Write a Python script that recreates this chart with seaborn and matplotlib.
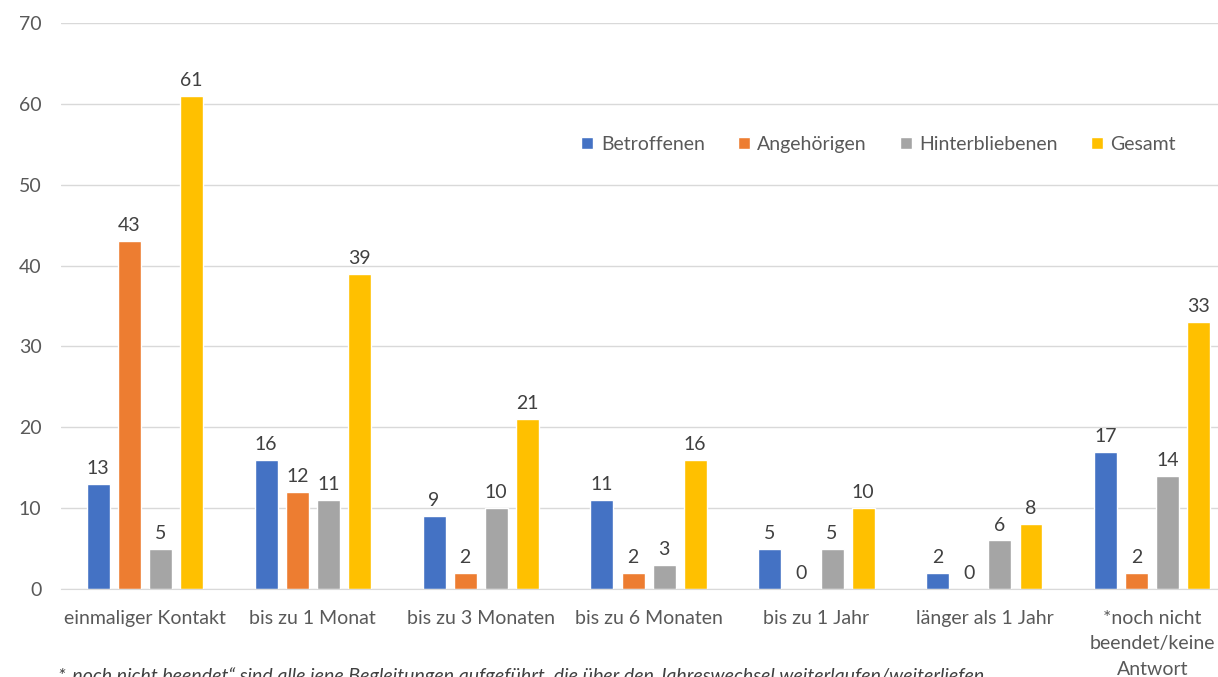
import pandas as pd
import matplotlib.pyplot as plt
import seaborn as sns

# Data
categories = ["einmaliger Kontakt", "bis zu 1 Monat", "bis zu 3 Monaten", "bis zu 6 Monaten",
              "bis zu 1 Jahr", "länger als 1 Jahr", "*noch nicht\nbeendet/keine\nAntwort"]
groups = ["Betroffenen", "Angehörigen", "Hinterbliebenen", "Gesamt"]
betroffenen = [13, 16, 9, 11, 5, 2, 17]
angehoerigen = [43, 12, 2, 2, 0, 0, 2]
hinterbliebenen = [5, 11, 10, 3, 5, 6, 14]
gesamt = [61, 39, 21, 16, 10, 8, 33]
y_ticks = [0, 10, 20, 30, 40, 50, 60, 70]
footnote = ("*„noch nicht beendet“ sind alle jene Begleitungen aufgeführt, "
            "die über den Jahreswechsel weiterlaufen/weiterliefen")

df = pd.DataFrame({
    "Kategorie": categories * 4,
    "Gruppe": [g for g in groups for _ in categories],
    "Anzahl": betroffenen + angehoerigen + hinterbliebenen + gesamt,
})

sns.set_style("white")
plt.rcParams["font.family"] = ["Lato", "DejaVu Sans"]
text_col = "#595959"
palette = ["#4472C4", "#ED7D31", "#A5A5A5", "#FFC000"]
fs = 14

fig = plt.figure(figsize=(12.18, 6.77), dpi=100)
ax = fig.add_axes([0.050, 0.130, 0.965, 0.836])

sns.barplot(data=df, x="Kategorie", y="Anzahl", hue="Gruppe", palette=palette,
            width=0.74, gap=0.26, ax=ax, saturation=1)

for cont in ax.containers:
    ax.bar_label(cont, fmt="%d", padding=5, fontsize=fs, color="#404040")

ax.set_ylim(0, 70)
ax.set_xlim(-0.5, 6.5)
ax.set_yticks(y_ticks)
ax.yaxis.grid(True, color="#D9D9D9", linewidth=1)
ax.set_axisbelow(True)
ax.set_xlabel("")
ax.set_ylabel("")
for s in ["left", "right", "top"]:
    ax.spines[s].set_visible(False)
ax.spines["bottom"].set_color("#D9D9D9")
ax.tick_params(axis="both", length=0, labelsize=fs, labelcolor=text_col)
ax.tick_params(axis="x", pad=15)
ax.tick_params(axis="y", pad=14)
for lbl in ax.get_xticklabels():
    lbl.set_linespacing(1.6)

leg = ax.legend(loc="center left", bbox_to_anchor=(0.428, 0.786), ncol=4, frameon=False,
                fontsize=fs, handlelength=0.6, handleheight=0.6, columnspacing=1.7,
                handletextpad=0.4)
for t in leg.get_texts():
    t.set_color(text_col)

fig.text(0.048, 0.014, footnote, fontsize=14, style="italic", color="#404040",
         va="top", ha="left")

plt.savefig("out.png", dpi=100)
